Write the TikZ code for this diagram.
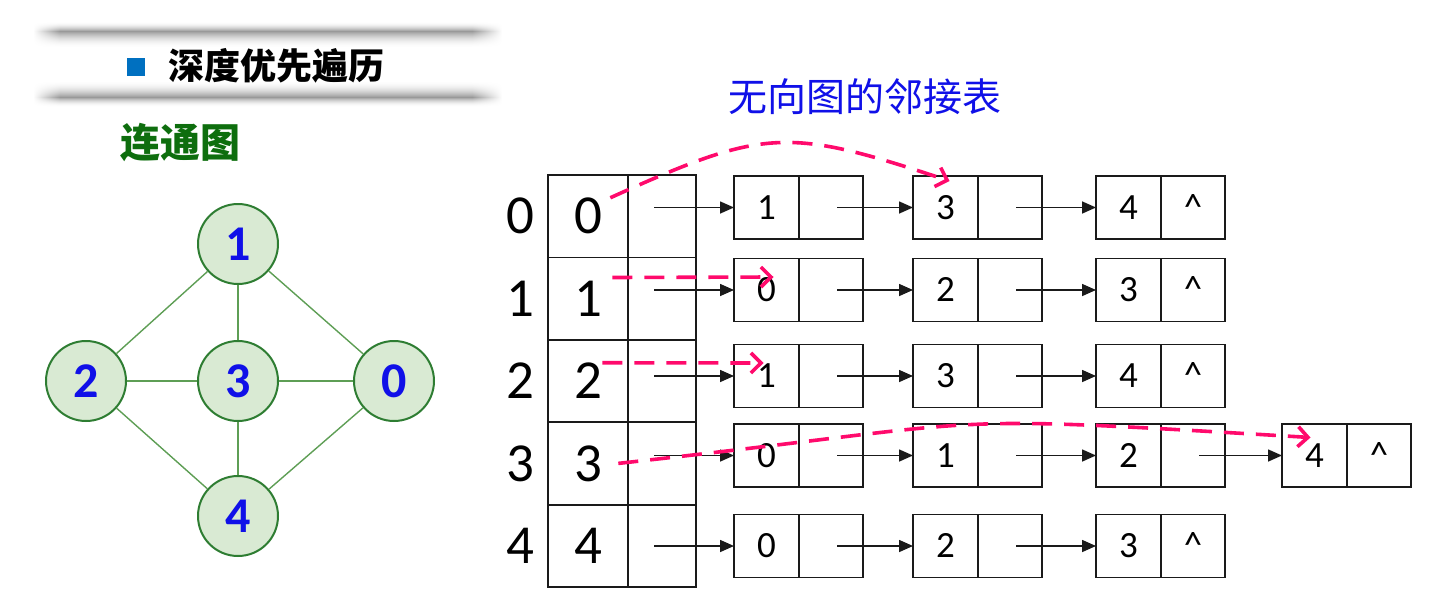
\documentclass[tikz,border=0pt]{standalone}
\usepackage{fontspec}
\setmainfont{Carlito}
\newfontfamily\cjk{Noto Sans CJK SC}
\usetikzlibrary{arrows.meta,calc,positioning}
\definecolor{tinta}{HTML}{1A1A1A}
\definecolor{hoja}{HTML}{D9EAD3}
\definecolor{borde}{HTML}{2E7D32}
\definecolor{lineaverde}{HTML}{5E9E55}
\definecolor{azul}{HTML}{1010E8}
\definecolor{marca}{HTML}{0070C0}
\definecolor{verde}{HTML}{0E6E0E}
\definecolor{rosa}{HTML}{FF0A6C}

\begin{document}
\begin{tikzpicture}[x=0.5pt,y=-0.5pt,
   vertice/.style={circle,draw=borde,fill=hoja,line width=1pt,minimum size=40pt,inner sep=0pt,text=azul,font=\fontsize{25}{25}\selectfont\bfseries},
   arista/.style={draw=lineaverde,line width=0.7pt},
   celda/.style={draw=tinta,line width=0.9pt,minimum height=41.2pt,inner sep=0pt,outer sep=0pt},
   grande/.style={inner sep=0pt,font=\fontsize{27.5}{27.5}\selectfont},
   campo/.style={draw=tinta,line width=0.9pt,minimum height=31.5pt,inner sep=0pt,outer sep=0pt,anchor=west,text height=11.7pt,text depth=0pt,font=\fontsize{18.5}{18.5}\selectfont},
   enlace/.style={-{Triangle[length=7pt,width=6pt]},line width=0.8pt,tinta},
   visita/.style={rosa,line width=1.8pt,dash pattern=on 10pt off 6pt,-{Straight Barb[length=5pt,width=10pt]}}]
  \useasboundingbox (0,0) rectangle (1430,605);

  % cabecera
  \foreach \yb/\s in {32/1,98/-1}
    \foreach \j in {-16,...,16} {
      \pgfmathsetmacro\k{40*(max(0,1-abs(\j)/((\j*\s<0) ? 10 : 17)))^2}
      \shade[left color=white,right color=black!\k] (33,{\yb+\j-0.6}) rectangle (60,{\yb+\j+0.6});
      \fill[black!\k] (60,{\yb+\j-0.6}) rectangle (472,{\yb+\j+0.6});
      \shade[left color=black!\k,right color=white] (472,{\yb+\j-0.6}) rectangle (502,{\yb+\j+0.6});
    }
  \node[fill=marca,minimum size=9pt,inner sep=0pt] (vineta) at (136,67) {};
  \node[font=\cjk\fontsize{18}{18}\selectfont\bfseries] (titulo) at (276,66) {深度优先遍历};
  \node[text=verde,font=\cjk\fontsize{20}{20}\selectfont\bfseries] (conexo) at (180,143) {连通图};
  \node[text=azul,font=\cjk\fontsize{19.5}{19.5}\selectfont] (rotulo) at (865,97) {无向图的邻接表};

  % --- grafo ---
  \node[vertice] (g1) at (238,244) {1};
  \node[vertice] (g2) at (86,381) {2};
  \node[vertice] (g3) at (238,381) {3};
  \node[vertice] (g0) at (394,381) {0};
  \node[vertice] (g4) at (238,516) {4};
  \foreach \a/\b in {1/2,1/3,1/0,2/3,3/0,2/4,3/4,0/4}
    \draw[arista] (g\a) -- (g\b);

  % --- tabla de vertices ---
  \foreach \r in {0,...,4} {
    \node[celda,minimum width=40pt] (v\r) at (588,{216.2+82.4*\r}) {};
    \node[celda,minimum width=34pt,anchor=west] (h\r) at (v\r.east) {};
    \node[grande] (i\r) at (v\r.center) {\r};
    \node[grande] (l\r) at (520,{216.2+82.4*\r}) {\r};
  }

  % --- listas de adyacencia ---
  \foreach \fila/\yc/\lista in {0/207.5/{1/,3/,4/\textasciicircum},
                               1/290/{0/,2/,3/\textasciicircum},
                               2/376/{1/,3/,4/\textasciicircum},
                               3/455.5/{0/,1/,2/,4/\textasciicircum},
                               4/546/{0/,2/,3/\textasciicircum}} {
    \foreach \v/\q [count=\k from 0] in \lista {
      \pgfmathsetmacro\xc{{734,913,1096,1282}[\k]}
      \node[campo,minimum width=32.5pt] (d\fila\k) at (\xc,\yc) {\v};
      \node[campo,minimum width=32pt] (p\fila\k) at (d\fila\k.east) {\q};
      \ifnum\k=0
        \draw[enlace] ([xshift=-4pt]h\fila.center |- d\fila0.west) -- (d\fila0.west);
      \else
        \pgfmathtruncatemacro\ant{\k-1}
        \draw[enlace] ([xshift=3pt]p\fila\ant.center) -- (d\fila\k.west);
      \fi
    }
  }

  % --- recorrido en profundidad ---
  \draw[visita] ($(i0.north east)+(8,0)$) .. controls +(155,-70) and +(-163,-54) .. ($(d01.north)+(4,5)$);
  \draw[visita] ($(i1.north east)+(10,-3)$) -- ($(d10.center)+(7,-13)$);
  \draw[visita] (i2.north east) -- ($(d20.center)+(-3,-13)$);
  \draw[visita] ($(i3.east)+(16,0)$) .. controls +(400,-44) and +(-400,-24) .. ($(d33.center)+(-4,-18)$);
\end{tikzpicture}
\end{document}
